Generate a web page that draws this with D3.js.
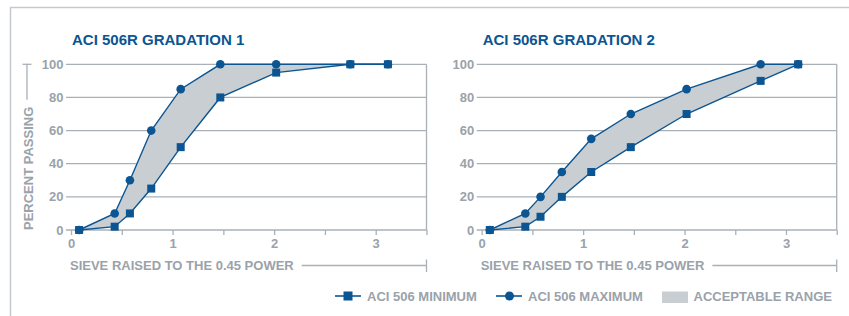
<!DOCTYPE html>
<html>
<head>
<meta charset="utf-8">
<script src="https://cdn.jsdelivr.net/npm/d3@7"></script>
<style>
  body { margin: 0; background: #fff; }
  svg { display: block; font-family: "Liberation Sans", Arial, sans-serif; }
</style>
</head>
<body>
<svg id="chart" width="849" height="316"></svg>
<script>
// sieve sizes raised to the 0.45 power
const sieveX = [0.08, 0.43, 0.58, 0.79, 1.08, 1.47, 2.02, 2.75, 3.12];
const grad1Min = [0, 2, 10, 25, 50, 80, 95, 100, 100];
const grad1Max = [0, 10, 30, 60, 85, 100, 100, 100, 100];
const grad2Min = [0, 2, 8, 20, 35, 50, 70, 90, 100];
const grad2Max = [0, 10, 20, 35, 55, 70, 85, 100, 100];
const titles = ["ACI 506R GRADATION 1", "ACI 506R GRADATION 2"];
const yTicks = [0, 20, 40, 60, 80, 100];
const xTicks = [0, 0.5, 1, 1.5, 2, 2.5, 3, 3.5];
const legendLabels = ["ACI 506 MINIMUM", "ACI 506 MAXIMUM", "ACCEPTABLE RANGE"];

const blue = "#0b5592";
const gray = "#9aa2aa";
const grid = "#a9b0b7";
const fillGray = "#c9ced2";

const svg = d3.select("#chart");

// frame (top + left)
svg.append("path")
  .attr("d", "M10.5,316 L10.5,7.5 L849,7.5")
  .attr("fill", "none")
  .attr("stroke", "#c3c9ce")
  .attr("stroke-width", 1.5);

const panels = [
  { left: 71, right: 426.5, title: titles[0], min: grad1Min, max: grad1Max, yTitle: true },
  { left: 481.7, right: 836.7, title: titles[1], min: grad2Min, max: grad2Max, yTitle: false }
];

const yScale = d3.scaleLinear().domain([0, 100]).range([230, 64.3]);

panels.forEach(p => {
  const x = d3.scaleLinear().domain([0, 3.5]).range([p.left, p.right]);
  const g = svg.append("g");

  g.append("text")
    .attr("x", p.left + 1)
    .attr("y", 44.5)
    .attr("fill", blue)
    .attr("font-size", "15px")
    .attr("font-weight", "bold")
    .text(p.title);

  // horizontal gridlines
  g.selectAll("line.grid")
    .data(yTicks)
    .enter()
    .append("line")
    .attr("class", "grid")
    .attr("x1", p.left - 5)
    .attr("x2", p.right)
    .attr("y1", d => yScale(d))
    .attr("y2", d => yScale(d))
    .attr("stroke", grid)
    .attr("stroke-width", 1.3);

  g.selectAll("text.ytick")
    .data(yTicks)
    .enter()
    .append("text")
    .attr("class", "ytick")
    .attr("x", p.left - 7.5)
    .attr("y", d => yScale(d) + 4.6)
    .attr("text-anchor", "end")
    .attr("fill", gray)
    .attr("font-size", "13px")
    .attr("font-weight", "bold")
    .text(d => d);

  // right edge
  g.append("line")
    .attr("x1", p.right).attr("x2", p.right)
    .attr("y1", yScale(100)).attr("y2", yScale(0))
    .attr("stroke", grid)
    .attr("stroke-width", 1.3);

  const xAxis = g.append("g")
    .attr("transform", `translate(0,${yScale(0)})`)
    .call(d3.axisBottom(x).tickValues(xTicks).tickSize(5).tickPadding(4)
      .tickFormat(d => Number.isInteger(d) ? d : ""));
  xAxis.select(".domain").remove();
  xAxis.selectAll("line").attr("stroke", grid).attr("stroke-width", 1.3);
  xAxis.selectAll("text")
    .attr("fill", gray)
    .attr("font-size", "13px")
    .attr("font-weight", "bold")
    .attr("font-family", "Liberation Sans, Arial, sans-serif");

  // x axis title with rule
  const xt = g.append("text")
    .attr("x", p.left - 1)
    .attr("y", 270.3)
    .attr("fill", gray)
    .attr("font-size", "13px")
    .attr("font-weight", "bold")
    .text("SIEVE RAISED TO THE 0.45 POWER");
  const tw = xt.node().getComputedTextLength();
  g.append("line")
    .attr("x1", p.left - 1 + tw + 8).attr("x2", p.right)
    .attr("y1", 265.5).attr("y2", 265.5)
    .attr("stroke", grid).attr("stroke-width", 1.3);
  g.append("line")
    .attr("x1", p.right).attr("x2", p.right)
    .attr("y1", 259.5).attr("y2", 272)
    .attr("stroke", grid).attr("stroke-width", 1.3);

  if (p.yTitle) {
    const yt = g.append("text")
      .attr("transform", `translate(33,${yScale(0)}) rotate(-90)`)
      .attr("fill", gray)
      .attr("font-size", "13px")
      .attr("font-weight", "bold")
      .text("PERCENT PASSING");
    const th = yt.node().getComputedTextLength();
    g.append("line")
      .attr("x1", 27).attr("x2", 27)
      .attr("y1", yScale(100)).attr("y2", yScale(0) - th - 7)
      .attr("stroke", grid).attr("stroke-width", 1.3);
    g.append("line")
      .attr("x1", 22.5).attr("x2", 31.5)
      .attr("y1", yScale(100)).attr("y2", yScale(100))
      .attr("stroke", grid).attr("stroke-width", 1.3);
  }

  const rows = sieveX.map((s, i) => ({ x: s, lo: p.min[i], hi: p.max[i] }));

  g.append("path")
    .datum(rows)
    .attr("fill", fillGray)
    .attr("d", d3.area().x(d => x(d.x)).y0(d => yScale(d.lo)).y1(d => yScale(d.hi)));

  ["hi", "lo"].forEach(k => {
    g.append("path")
      .datum(rows)
      .attr("fill", "none")
      .attr("stroke", blue)
      .attr("stroke-width", 1.4)
      .attr("d", d3.line().x(d => x(d.x)).y(d => yScale(d[k])));
  });

  g.selectAll("circle.max")
    .data(rows)
    .enter()
    .append("circle")
    .attr("class", "max")
    .attr("cx", d => x(d.x))
    .attr("cy", d => yScale(d.hi))
    .attr("r", 4.3)
    .attr("fill", blue);

  g.selectAll("rect.min")
    .data(rows)
    .enter()
    .append("rect")
    .attr("class", "min")
    .attr("x", d => x(d.x) - 4)
    .attr("y", d => yScale(d.lo) - 4)
    .attr("width", 8)
    .attr("height", 8)
    .attr("fill", blue);
});

// legend
const leg = svg.append("g").attr("transform", "translate(0,296)");
const legendItems = [
  { x: 335, kind: "square", label: legendLabels[0] },
  { x: 496, kind: "circle", label: legendLabels[1] },
  { x: 662, kind: "range", label: legendLabels[2] }
];
legendItems.forEach(d => {
  if (d.kind === "range") {
    leg.append("rect")
      .attr("x", d.x).attr("y", -4.5)
      .attr("width", 26).attr("height", 11.5)
      .attr("fill", fillGray);
  } else {
    leg.append("line")
      .attr("x1", d.x).attr("x2", d.x + 26)
      .attr("y1", 0).attr("y2", 0)
      .attr("stroke", blue).attr("stroke-width", 1.6);
    if (d.kind === "square") {
      leg.append("rect")
        .attr("x", d.x + 13 - 4.5).attr("y", -4.5)
        .attr("width", 9).attr("height", 9)
        .attr("fill", blue);
    } else {
      leg.append("circle")
        .attr("cx", d.x + 13.5).attr("cy", 0)
        .attr("r", 4.5)
        .attr("fill", blue);
    }
  }
  leg.append("text")
    .attr("x", d.x + (d.kind === "range" ? 31.5 : 32))
    .attr("y", 4.6)
    .attr("fill", gray)
    .attr("font-size", "13px")
    .attr("font-weight", "bold")
    .text(d.label);
});
</script>
</body>
</html>
